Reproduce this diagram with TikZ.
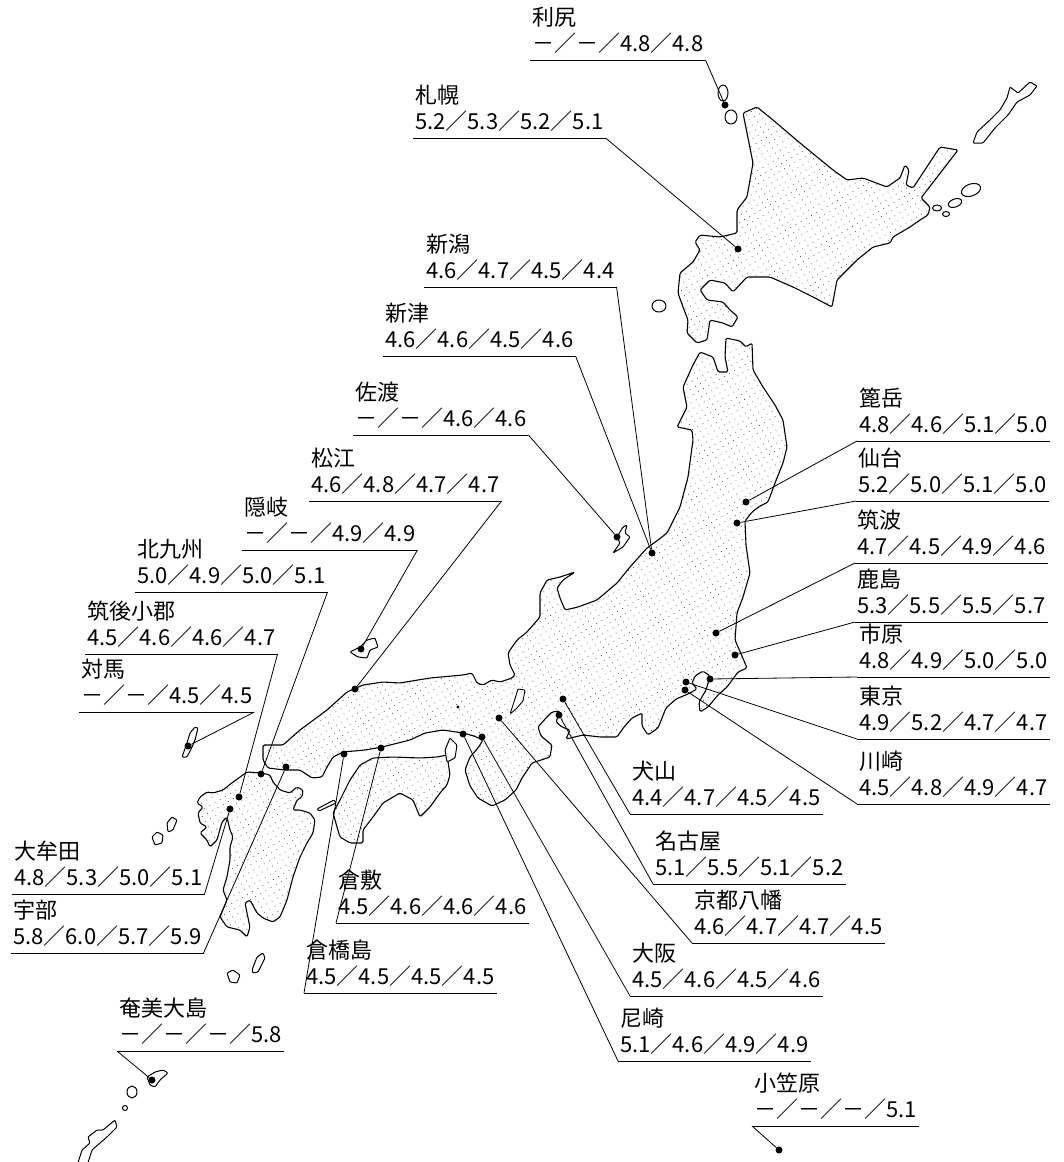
\documentclass[tikz,border=0pt]{standalone}
\usepackage{fontspec}
\setmainfont{Noto Sans CJK JP}
\usetikzlibrary{patterns.meta}
\newcommand\lbtxt[2]{\begin{tabular}[b]{@{}l@{}}#1\\#2\end{tabular}}
\begin{document}
\begin{tikzpicture}[x=1pt,y=-1pt,line join=round,
  coast/.style={draw=black,line width=1.1pt,rounded corners=1.5pt,pattern={Dots[distance=6pt,radius=0.55pt,angle=30]},pattern color=black!65},
  isle/.style={draw=black,line width=1pt,fill=white,rounded corners=1pt},
  dot/.style={circle,fill=black,inner sep=0pt,minimum size=7pt},
  lbl/.style={anchor=south west,inner xsep=2pt,inner ysep=1pt,font=\fontsize{22}{24}\selectfont},
  uline/.style={line width=1pt},
  lead/.style={line width=0.8pt}]
\useasboundingbox (0,0) rectangle (1064,1162);

% ---------- Hokkaido ----------
\draw[coast] (743,113) -- (753,163) -- (747,197) -- (737,210) -- (737,233) -- (720,237) -- (700,235) -- (695,242) -- (700,250) -- (693,262) -- (680,273) -- (678,293) -- (683,307) -- (688,320) -- (687,333) -- (697,343) -- (707,340) -- (710,320) -- (723,323) -- (732,327) -- (738,317) -- (730,310) -- (723,302) -- (707,300) -- (700,290) -- (710,280) -- (725,283) -- (733,292) -- (747,277) -- (770,277) -- (793,287) -- (813,297) -- (832,307) -- (837,280) -- (857,260) -- (873,247) -- (890,243) -- (893,237) -- (910,227) -- (920,220) -- (928,215) -- (930,207) -- (921,198) -- (958,150) -- (940,147) -- (913,188) -- (906,185) -- (909,170) -- (905,165) -- (900,178) -- (887,187) -- (863,178) -- (847,180) -- (833,170) -- (800,143) -- (773,120) -- (757,107) -- cycle;
% Kunashiri, Habomai
\draw[isle] (973,143) -- (977,132) -- (990,120) -- (1000,110) -- (1007,98) -- (1010,87) -- (1018,93) -- (1030,82) -- (1037,86) -- (1030,95) -- (1017,102) -- (1008,115) -- (995,128) -- (983,143) -- cycle;
\draw[isle] (937,208) ellipse [x radius=4.5,y radius=3];
\draw[isle] (946,214) ellipse [x radius=3.5,y radius=2.5];
\draw[isle] (955,203) ellipse [x radius=7,y radius=4,rotate=20];
\draw[isle] (971,190) ellipse [x radius=10,y radius=6,rotate=20];
% Rishiri, Rebun, Okushiri
\draw[isle] (723,93) ellipse [x radius=5,y radius=8];
\draw[isle] (731,117) ellipse [x radius=6,y radius=7];
\draw[isle] (659,306) ellipse [x radius=7,y radius=6];

% ---------- Honshu ----------
\draw[coast] (700,352) -- (713,357) -- (718,372) -- (728,372) -- (725,357) -- (726,338) -- (740,341) -- (746,347) -- (752,343) -- (753,370) -- (763,387) -- (775,405) -- (783,420) -- (787,447) -- (783,463) -- (775,483) -- (768,502) -- (760,506) -- (752,512) -- (745,521) -- (746,545) -- (750,573) -- (743,597) -- (737,613) -- (735,640) -- (742,656) -- (747,668) -- (738,672) -- (727,687) -- (718,695) -- (708,707) -- (700,712) -- (699,702) -- (706,690) -- (710,676) -- (703,671) -- (695,676) -- (692,683) -- (697,689) -- (688,694) -- (676,699) -- (666,708) -- (658,728) -- (648,735) -- (642,726) -- (642,713) -- (632,718) -- (624,727) -- (617,737) -- (600,737) -- (583,735) -- (566,739) -- (570,730) -- (562,727) -- (556,722) -- (560,711) -- (552,712) -- (546,718) -- (538,727) -- (541,736) -- (552,745) -- (550,757) -- (532,763) -- (522,778) -- (516,790) -- (505,800) -- (492,806) -- (478,798) -- (470,786) -- (465,770) -- (470,757) -- (478,748) -- (483,740) -- (474,736) -- (463,733) -- (443,730) -- (425,733) -- (410,740) -- (382,747) -- (365,750) -- (343,752) -- (333,757) -- (327,767) -- (322,777) -- (312,778) -- (300,770) -- (285,770) -- (268,768) -- (263,760) -- (263,745) -- (283,745) -- (300,730) -- (327,710) -- (347,692) -- (363,685) -- (383,682) -- (400,683) -- (430,678) -- (463,675) -- (472,673) -- (477,683) -- (483,685) -- (492,680) -- (500,682) -- (512,678) -- (515,675) -- (510,665) -- (508,653) -- (517,640) -- (527,632) -- (540,617) -- (540,593) -- (547,580) -- (560,577) -- (575,572) -- (563,580) -- (557,588) -- (560,598) -- (565,610) -- (578,607) -- (597,600) -- (617,583) -- (630,567) -- (647,548) -- (658,540) -- (667,533) -- (680,507) -- (688,477) -- (693,440) -- (692,430) -- (677,427) -- (687,407) -- (683,387) -- (693,365) -- cycle;
% Lake Biwa
\draw[isle,line width=0.9pt] (510,714) -- (514,702) -- (518,689) -- (525,690) -- (523,701) -- (516,709) -- cycle;
\fill (458,707) circle [radius=1.6];
% Sado, Oki
\draw[isle] (613,553) -- (620,543) -- (617,537) -- (623,527) -- (627,525) -- (625,533) -- (630,537) -- (623,547) -- cycle;
\draw[isle] (350,652) -- (360,647) -- (367,640) -- (375,638) -- (378,647) -- (370,650) -- (367,658) -- (358,657) -- cycle;

% ---------- Shikoku, Awaji ----------
\draw[coast] (360,765) -- (373,758) -- (393,757) -- (420,758) -- (437,757) -- (447,755) -- (450,775) -- (447,785) -- (440,793) -- (430,807) -- (420,817) -- (413,800) -- (400,793) -- (383,803) -- (373,817) -- (363,830) -- (363,843) -- (350,843) -- (340,837) -- (337,827) -- (333,813) -- (340,800) -- (350,780) -- cycle;
\draw[isle] (317,809) -- (334,800) -- (336,803) -- (319,811) -- cycle;
\draw[isle] (450,738) -- (457,745) -- (455,758) -- (447,762) -- (445,750) -- cycle;

% ---------- Kyushu ----------
\draw[coast] (262,773) -- (270,775) -- (273,782) -- (280,790) -- (290,793) -- (297,787) -- (303,790) -- (302,797) -- (297,800) -- (293,810) -- (300,810) -- (310,813) -- (315,820) -- (313,833) -- (307,843) -- (300,857) -- (293,877) -- (287,900) -- (280,917) -- (273,922) -- (263,918) -- (257,913) -- (250,900) -- (245,903) -- (247,913) -- (250,927) -- (247,937) -- (240,930) -- (227,927) -- (220,917) -- (227,900) -- (223,890) -- (227,877) -- (230,860) -- (230,847) -- (233,837) -- (230,830) -- (227,817) -- (222,822) -- (217,840) -- (210,847) -- (207,840) -- (200,833) -- (207,827) -- (200,823) -- (198,813) -- (203,807) -- (197,803) -- (200,797) -- (207,792) -- (213,793) -- (223,790) -- (233,782) -- (247,772) -- cycle;
% Tsushima, Goto, Yakushima, Tanegashima
\draw[isle] (182,757) -- (187,743) -- (190,733) -- (195,727) -- (198,728) -- (195,740) -- (192,747) -- (187,757) -- cycle;
\draw[isle] (152,837) -- (157,832) -- (163,835) -- (162,843) -- (155,845) -- cycle;
\draw[isle] (167,823) -- (172,817) -- (177,820) -- (173,830) -- (168,832) -- cycle;
\draw[isle] (227,973) -- (233,970) -- (240,975) -- (237,983) -- (230,982) -- cycle;
\draw[isle] (252,970) -- (257,957) -- (263,953) -- (265,958) -- (258,972) -- (253,973) -- cycle;
% Amami, Tokunoshima, Okinawa
\draw[isle] (147,1077) -- (155,1072) -- (163,1070) -- (168,1073) -- (160,1080) -- (155,1087) -- (150,1085) -- cycle;
\draw[isle] (132,1092) ellipse [x radius=5,y radius=6];
\draw[isle] (125,1108) circle [radius=2.5];
\draw[isle] (77,1166) -- (82,1150) -- (90,1143) -- (88,1137) -- (97,1130) -- (103,1130) -- (115,1120) -- (117,1127) -- (107,1137) -- (100,1143) -- (92,1150) -- (87,1166) -- cycle;

% ---------- dots ----------
\node[dot] (rishiri) at (725,105) {};
\node[dot] (sapporo) at (738,249) {};
\node[dot] (niigata) at (652,553) {};
\node[dot] (sado) at (617,537) {};
\node[dot] (matsue) at (355,689) {};
\node[dot] (oki) at (361,649) {};
\node[dot] (kitakyushu) at (261,774) {};
\node[dot] (chikugo) at (239,797) {};
\node[dot] (tsushima) at (188,746) {};
\node[dot] (omuta) at (230,809) {};
\node[dot] (ube) at (286,767) {};
\node[dot] (kurashiki) at (381,748) {};
\node[dot] (kurahashi) at (344,754) {};
\node[dot] (amami) at (152,1080) {};
\node[dot] (nonodake) at (746,502) {};
\node[dot] (sendai) at (737,523) {};
\node[dot] (tsukuba) at (716,633) {};
\node[dot] (kashima) at (735,655) {};
\node[dot] (ichihara) at (710,679) {};
\node[dot] (tokyo) at (686,682) {};
\node[dot] (kawasaki) at (685,690) {};
\node[dot] (inuyama) at (563,699) {};
\node[dot] (nagoya) at (559,715) {};
\node[dot] (kyoto) at (499,718) {};
\node[dot] (osaka) at (482,737) {};
\node[dot] (amagasaki) at (463,734) {};
\node[dot] (ogasawara) at (779,1150) {};

% ---------- labels ----------
\node[lbl] (Lrishiri) at (530,60) {\lbtxt{利尻}{－／－／4.8／4.8}};
\node[lbl] (Lsapporo) at (413,138) {\lbtxt{札幌}{5.2／5.3／5.2／5.1}};
\node[lbl] (Lniigata) at (424,287) {\lbtxt{新潟}{4.6／4.7／4.5／4.4}};
\node[lbl] (Lniitsu) at (383,356) {\lbtxt{新津}{4.6／4.6／4.5／4.6}};
\node[lbl] (Lsado) at (353,435) {\lbtxt{佐渡}{－／－／4.6／4.6}};
\node[lbl] (Lmatsue) at (309,501) {\lbtxt{松江}{4.6／4.8／4.7／4.7}};
\node[lbl] (Loki) at (242,550) {\lbtxt{隠岐}{－／－／4.9／4.9}};
\node[lbl] (Lkitakyushu) at (135,592) {\lbtxt{北九州}{5.0／4.9／5.0／5.1}};
\node[lbl] (Lchikugo) at (85,654) {\lbtxt{筑後小郡}{4.5／4.6／4.6／4.7}};
\node[lbl] (Ltsushima) at (79,712) {\lbtxt{対馬}{－／－／4.5／4.5}};
\node[lbl] (Lomuta) at (12,894) {\lbtxt{大牟田}{4.8／5.3／5.0／5.1}};
\node[lbl] (Lube) at (11,953) {\lbtxt{宇部}{5.8／6.0／5.7／5.9}};
\node[lbl] (Lkurashiki) at (336,923) {\lbtxt{倉敷}{4.5／4.6／4.6／4.6}};
\node[lbl] (Lkurahashi) at (304,993) {\lbtxt{倉橋島}{4.5／4.5／4.5／4.5}};
\node[lbl] (Lamami) at (117,1051) {\lbtxt{奄美大島}{－／－／－／5.8}};
\node[lbl] (Lnonodake) at (857,441) {\lbtxt{篦岳}{4.8／4.6／5.1／5.0}};
\node[lbl] (Lsendai) at (856,501) {\lbtxt{仙台}{5.2／5.0／5.1／5.0}};
\node[lbl] (Ltsukuba) at (855,563) {\lbtxt{筑波}{4.7／4.5／4.9／4.6}};
\node[lbl] (Lkashima) at (855,622) {\lbtxt{鹿島}{5.3／5.5／5.5／5.7}};
\node[lbl] (Lichihara) at (857,677) {\lbtxt{市原}{4.8／4.9／5.0／5.0}};
\node[lbl] (Ltokyo) at (857,739) {\lbtxt{東京}{4.9／5.2／4.7／4.7}};
\node[lbl] (Lkawasaki) at (857,804) {\lbtxt{川崎}{4.5／4.8／4.9／4.7}};
\node[lbl] (Linuyama) at (630,814) {\lbtxt{犬山}{4.4／4.7／4.5／4.5}};
\node[lbl] (Lnagoya) at (653,884) {\lbtxt{名古屋}{5.1／5.5／5.1／5.2}};
\node[lbl] (Lkyoto) at (692,943) {\lbtxt{京都八幡}{4.6／4.7／4.7／4.5}};
\node[lbl] (Losaka) at (630,996) {\lbtxt{大阪}{4.5／4.6／4.5／4.6}};
\node[lbl] (Lamagasaki) at (618,1061) {\lbtxt{尼崎}{5.1／4.6／4.9／4.9}};
\node[lbl] (Logasawara) at (752,1126) {\lbtxt{小笠原}{－／－／－／5.1}};

% underlines
\foreach \n in {rishiri,sapporo,niigata,niitsu,sado,matsue,oki,kitakyushu,chikugo,tsushima,omuta,ube,kurashiki,kurahashi,amami,nonodake,sendai,tsukuba,kashima,ichihara,tokyo,kawasaki,inuyama,nagoya,kyoto,osaka,amagasaki,ogasawara}
  \draw[uline] (L\n.south west) -- (L\n.south east);

% leaders from the right end of the underline
\draw[lead] (Lrishiri.south east) -- (rishiri);
\draw[lead] (Lsapporo.south east) -- (sapporo);
\draw[lead] (Lniigata.south east) -- (niigata);
\draw[lead] (Lniitsu.south east) -- (niigata);
\draw[lead] (Lsado.south east) -- (sado);
\draw[lead] (Lmatsue.south east) -- (matsue);
\draw[lead] (Loki.south east) -- (oki);
\draw[lead] (Lkitakyushu.south east) -- (kitakyushu);
\draw[lead] (Lchikugo.south east) -- (chikugo);
\draw[lead] (Ltsushima.south east) -- (tsushima);
\draw[lead] (Lomuta.south east) -- (omuta);
\draw[lead] (Lube.south east) -- (ube);
% leaders from the left end of the underline
\draw[lead] (Lkurashiki.south west) -- (kurashiki);
\draw[lead] (Lkurahashi.south west) -- (kurahashi);
\draw[lead] (Lamami.south west) -- (amami);
\draw[lead] (Lnonodake.south west) -- (nonodake);
\draw[lead] (Lsendai.south west) -- (sendai);
\draw[lead] (Ltsukuba.south west) -- (tsukuba);
\draw[lead] (Lkashima.south west) -- (kashima);
\draw[lead] (Lichihara.south west) -- (ichihara);
\draw[lead] (Ltokyo.south west) -- (tokyo);
\draw[lead] (Lkawasaki.south west) -- (kawasaki);
\draw[lead] (Linuyama.south west) -- (inuyama);
\draw[lead] (Lnagoya.south west) -- (nagoya);
\draw[lead] (Lkyoto.south west) -- (kyoto);
\draw[lead] (Losaka.south west) -- (osaka);
\draw[lead] (Lamagasaki.south west) -- (amagasaki);
\draw[lead] (Logasawara.south west) -- (ogasawara);
\end{tikzpicture}
\end{document}
